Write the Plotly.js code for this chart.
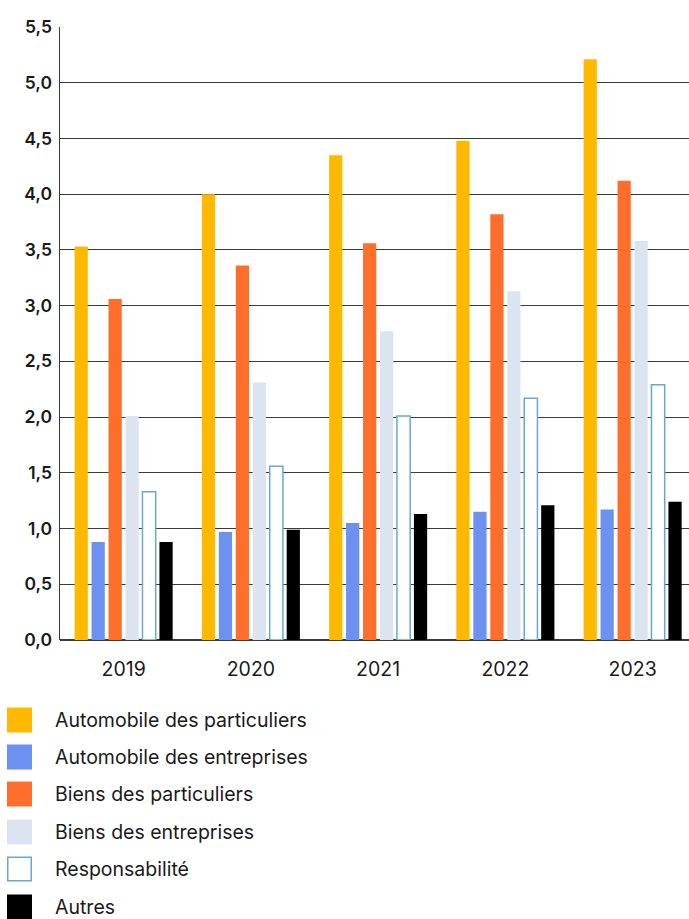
<!DOCTYPE html>
<html>
<head>
<meta charset="utf-8">
<script src="https://cdn.plot.ly/plotly-3.0.1.min.js"></script>
<style>
html,body{margin:0;padding:0;background:#fff;}
#chart{width:689px;height:919px;}
</style>
</head>
<body>
<div id="chart"></div>
<script>
// ---- data ----
const years = ["2019", "2020", "2021", "2022", "2023"];
const seriesNames = [
  "Automobile des particuliers",
  "Automobile des entreprises",
  "Biens des particuliers",
  "Biens des entreprises",
  "Responsabilité",
  "Autres"
];
const autoParticuliers = [3.53, 4.00, 4.35, 4.48, 5.21];
const autoEntreprises  = [0.88, 0.97, 1.05, 1.15, 1.17];
const biensParticuliers = [3.06, 3.36, 3.56, 3.82, 4.12];
const biensEntreprises = [2.01, 2.31, 2.77, 3.13, 3.58];
const responsabilite   = [1.33, 1.56, 2.01, 2.17, 2.29];
const autres           = [0.88, 0.99, 1.13, 1.21, 1.24];
const yTicks = [0, 0.5, 1, 1.5, 2, 2.5, 3, 3.5, 4, 4.5, 5, 5.5];

// ---- styles ----
const fills = ["#FFB900", "#6D91F0", "#FF6E2B", "#DCE4F2", "#FFFFFF", "#000000"];
const lines = [null, null, null, null, "#6AA5DE", null];
const values = [autoParticuliers, autoEntreprises, biensParticuliers, biensEntreprises, responsabilite, autres];

const FONT = "Inter, 'Liberation Sans', Arial, sans-serif";
const W = 689, H = 919;
const M = {l: 60, r: 0, t: 27, b: 279};
const plotW = W - M.l - M.r, plotH = H - M.t - M.b;

const traces = seriesNames.map((name, i) => ({
  type: "bar",
  name: name,
  x: years,
  y: values[i],
  marker: {
    color: fills[i],
    line: lines[i] ? {color: lines[i], width: 1.5} : {width: 0}
  },
  hoverinfo: "x+y+name"
}));

// manual legend (big square swatches)
const legendRowsPx = [720, 757, 794, 832, 869, 907];
const swatch = 25;
const px2x = px => (px - M.l) / plotW;
const py2y = py => (H - M.b - py) / plotH;
const shapes = [];
const annotations = [];
seriesNames.forEach((name, i) => {
  const cy = legendRowsPx[i];
  const inset = lines[i] ? 0.75 : 0;
  shapes.push({
    type: "rect", xref: "paper", yref: "paper",
    x0: px2x(7 + inset), x1: px2x(7 + swatch - inset),
    y0: py2y(cy - swatch / 2 + inset), y1: py2y(cy + swatch / 2 - inset),
    fillcolor: fills[i],
    line: lines[i] ? {color: lines[i], width: 1.5} : {width: 0}
  });
  annotations.push({
    xref: "paper", yref: "paper",
    x: px2x(53), y: py2y(cy),
    xanchor: "left", yanchor: "middle",
    text: name, showarrow: false,
    font: {family: FONT, size: 19.5, color: "#1a1a1a"}
  });
});

const layout = {
  width: W, height: H,
  margin: M,
  paper_bgcolor: "#fff", plot_bgcolor: "#fff",
  separators: ", ",
  showlegend: false,
  barmode: "group",
  bargap: 0.2,
  bargroupgap: 0.22,
  font: {family: FONT, size: 17, color: "#1a1a1a"},
  xaxis: {
    type: "category",
    range: [-0.5, 4.443],
    showgrid: false,
    showline: false,
    zeroline: false,
    ticks: "",
    ticklabelstandoff: 15,
    tickfont: {family: FONT, size: 19.5, color: "#1a1a1a"},
    fixedrange: true
  },
  yaxis: {
    range: [0, 5.5],
    tickvals: yTicks,
    tickformat: ".1f",
    showgrid: true,
    gridcolor: "#3a3a3a",
    gridwidth: 1,
    showline: true,
    linecolor: "#3a3a3a",
    linewidth: 1.5,
    zeroline: true,
    zerolinecolor: "#3a3a3a",
    zerolinewidth: 1.5,
    ticks: "",
    ticklabelstandoff: 3,
    tickfont: {family: FONT, size: 17.5, color: "#1a1a1a", weight: 600},
    fixedrange: true
  },
  shapes: shapes,
  annotations: annotations
};

Plotly.newPlot("chart", traces, layout, {displayModeBar: false, staticPlot: true});
</script>
</body>
</html>
